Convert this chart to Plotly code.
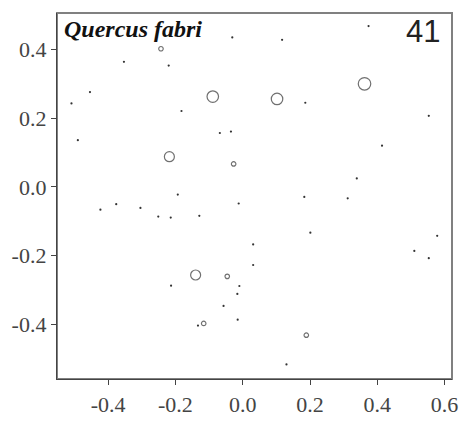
import plotly.graph_objects as go

# Point coordinates (ordination scores)
x_vals = [-0.031, -0.243, -0.353, -0.220, -0.454, -0.089, -0.509, -0.182, -0.490, -0.218,
          -0.068, -0.035, -0.027, -0.193, 0.374, 0.117, 0.362, 0.102, 0.186, 0.553,
          0.414, 0.339, -0.423, -0.376, -0.304, -0.251, -0.214, -0.129, -0.012, 0.031,
          0.031, -0.140, -0.046, -0.213, -0.010, -0.016, -0.057, -0.015, -0.116, -0.133,
          0.183, 0.312, 0.201, 0.578, 0.510, 0.553, 0.189, 0.130]
y_vals = [0.435, 0.402, 0.364, 0.353, 0.276, 0.263, 0.243, 0.221, 0.136, 0.088,
          0.157, 0.161, 0.067, -0.022, 0.468, 0.428, 0.300, 0.256, 0.245, 0.207,
          0.120, 0.025, -0.066, -0.050, -0.061, -0.086, -0.089, -0.084, -0.048, -0.167,
          -0.227, -0.256, -0.260, -0.287, -0.288, -0.311, -0.346, -0.386, -0.397, -0.403,
          -0.029, -0.033, -0.133, -0.142, -0.186, -0.207, -0.431, -0.516]
# Abundance class of Quercus fabri at each plot (0 = absent)
abundance = [0, 1, 0, 0, 0, 4, 0, 0, 0, 3,
             0, 0, 1, 0, 0, 0, 5, 4, 0, 0,
             0, 0, 0, 0, 0, 0, 0, 0, 0, 0,
             0, 3, 1, 0, 0, 0, 0, 0, 1, 0,
             0, 0, 0, 0, 0, 0, 1, 0]

x_ticks = [-0.4, -0.2, 0.0, 0.2, 0.4, 0.6]
y_ticks = [-0.4, -0.2, 0.0, 0.2, 0.4]
species = "Quercus fabri"
panel_no = "41"

size_map = {1: 4.5, 2: 7, 3: 10, 4: 11.5, 5: 12.5}

dx = [x for x, a in zip(x_vals, abundance) if a == 0]
dy = [y for y, a in zip(y_vals, abundance) if a == 0]
cx = [x for x, a in zip(x_vals, abundance) if a > 0]
cy = [y for y, a in zip(y_vals, abundance) if a > 0]
cs = [size_map[a] for a in abundance if a > 0]

fig = go.Figure()
fig.add_trace(go.Scatter(x=dx, y=dy, mode="markers",
                         marker=dict(symbol="circle", size=2.2, color="#333333",
                                     line=dict(width=0)),
                         showlegend=False, hoverinfo="skip"))
fig.add_trace(go.Scatter(x=cx, y=cy, mode="markers",
                         marker=dict(symbol="circle-open", size=cs, color="#333333",
                                     line=dict(width=1.2, color="#333333")),
                         showlegend=False, hoverinfo="skip"))

tick_font = dict(family="Liberation Serif", size=22, color="#444444")

fig.update_layout(
    width=470, height=429,
    margin=dict(l=54, r=16, t=13, b=41),
    paper_bgcolor="white", plot_bgcolor="white",
    xaxis=dict(range=[-0.552, 0.622], tickvals=x_ticks,
               ticktext=[f"{v:.1f}" for v in x_ticks],
               showgrid=False, zeroline=False, showline=True, linecolor="#444444",
               linewidth=1.3, ticks="outside", ticklen=5, tickcolor="#444444",
               tickfont=tick_font, mirror=False),
    yaxis=dict(range=[-0.5585, 0.506], tickvals=y_ticks,
               ticktext=[f"{v:.1f}" for v in y_ticks],
               showgrid=False, zeroline=False, showline=True, linecolor="#444444",
               linewidth=1.3, ticks="outside", ticklen=5, tickcolor="#444444",
               tickfont=tick_font, mirror=False),
    shapes=[
        dict(type="rect", xref="x domain", yref="y domain", x0=0, x1=1, y0=0, y1=1,
             layer="below", line=dict(color="#808080", width=2),
             fillcolor="rgba(0,0,0,0)"),
    ],
    annotations=[
        dict(text=f"<b><i>{species}</i></b>", xref="paper", yref="paper",
             x=0.013, y=0.955, xanchor="left", yanchor="middle", showarrow=False,
             font=dict(family="Liberation Serif", size=24, color="#111111")),
        dict(text=panel_no, xref="paper", yref="paper",
             x=0.975, y=0.95, xanchor="right", yanchor="middle", showarrow=False,
             font=dict(family="Liberation Sans", size=31, color="#222222")),
    ],
)

fig.write_html("out.html")
